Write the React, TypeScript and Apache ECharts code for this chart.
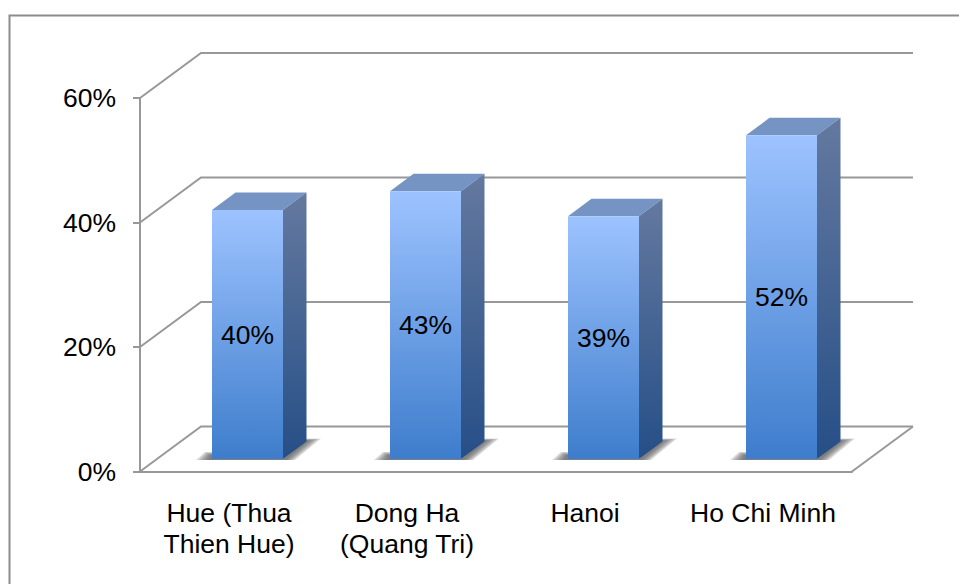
import React, { useEffect, useRef } from "react";
import * as echarts from "echarts";

const categories = ["Hue (Thua\nThien Hue)", "Dong Ha\n(Quang Tri)", "Hanoi", "Ho Chi Minh"];
const shares = [40, 43, 39, 52];
const yTicks = [0, 20, 40, 60];

const FONT = "'Liberation Sans', Arial, sans-serif";
const TEXT_SIZE = 26.5;
const WALL_DX = 61;
const WALL_DY = -45;
const BAR_W = 71;
const BAR_SHIFT_X = 18.5;
const BAR_SHIFT_Y = -12.5;
const SIDE_DX = 23.5;
const SIDE_DY = -17.5;
const LINE = "#989898";
const SHADOW_LAYERS = 6;

const vGrad = (a: string, b: string) =>
  new echarts.graphic.LinearGradient(0, 0, 0, 1, [
    { offset: 0, color: a },
    { offset: 1, color: b },
  ]);

const renderWall = (params: any, api: any) => {
  const v = api.value(0);
  const g = params.coordSys;
  const y = api.coord([0, v])[1];
  const children: any[] = [
    {
      type: "polyline",
      shape: { points: [[g.x, y], [g.x + WALL_DX, y + WALL_DY], [g.x + g.width + WALL_DX, y + WALL_DY]] },
      style: { stroke: LINE, lineWidth: 2, fill: "none" },
    },
  ];
  if (v === 0) {
    children.push({
      type: "line",
      shape: { x1: g.x + g.width, y1: y, x2: g.x + g.width + WALL_DX, y2: y + WALL_DY },
      style: { stroke: LINE, lineWidth: 2 },
    });
  }
  return { type: "group", children };
};

const renderBar = (_params: any, api: any) => {
  const top = api.coord([api.value(0), api.value(1)]);
  const base = api.coord([api.value(0), 0]);
  const l = top[0] + BAR_SHIFT_X - BAR_W / 2;
  const r = l + BAR_W;
  const t = top[1] + BAR_SHIFT_Y;
  const b = base[1] + BAR_SHIFT_Y;
  const shadow: any[] = [];
  for (let k = 0; k < SHADOW_LAYERS; k++) {
    const e = k / (SHADOW_LAYERS - 1);
    shadow.push({
      type: "polygon",
      shape: {
        points: [
          [l - 4 - 12 * e, b + 1],
          [l - 2 - 5 * e, b - 4 - 3 * e],
          [l + 4, b - 4 - 3 * e],
          [r, b],
          [r + SIDE_DX, b + SIDE_DY - 1 - 2 * e],
          [r + 26 + 12 * e, b + SIDE_DY - 1 - 2 * e],
          [r + 3 + 9 * e, b + 1],
        ],
      },
      style: { fill: "rgba(85,85,85,0.2)" },
    });
  }
  return {
    type: "group",
    children: [
      ...shadow,
      {
        type: "polygon",
        shape: { points: [[l, t], [l + SIDE_DX, t + SIDE_DY], [r + SIDE_DX, t + SIDE_DY], [r, t]] },
        style: { fill: "#7594C3" },
      },
      {
        type: "polygon",
        shape: { points: [[r, t], [r + SIDE_DX, t + SIDE_DY], [r + SIDE_DX, b + SIDE_DY], [r, b]] },
        style: { fill: vGrad("#64799F", "#264F87") },
      },
      {
        type: "rect",
        shape: { x: l, y: t, width: BAR_W, height: b - t },
        style: { fill: vGrad("#9DC3FF", "#3E7DCC") },
      },
      {
        type: "text",
        style: {
          x: (l + r) / 2,
          y: (t + b) / 2,
          text: `${api.value(1)}%`,
          fill: "#000",
          font: `${TEXT_SIZE}px ${FONT}`,
          align: "center",
          verticalAlign: "middle",
        },
      },
    ],
  };
};

export default function App() {
  const ref = useRef<HTMLDivElement>(null);
  useEffect(() => {
    const chart = echarts.init(ref.current!, undefined, { renderer: "svg" });
    chart.setOption({
      animation: false,
      backgroundColor: "#fff",
      textStyle: { fontFamily: FONT },
      grid: { left: 140, top: 98, width: 712, height: 373.5 },
      graphic: [
        {
          type: "polyline",
          silent: true,
          shape: { points: [[9.5, 640], [9.5, 15.5], [1000, 15.5]] },
          style: { stroke: "#8C8C8C", lineWidth: 2, fill: "none" },
        },
      ],
      xAxis: {
        type: "category",
        data: categories,
        axisLine: { lineStyle: { color: LINE, width: 2 } },
        axisTick: { length: 8, lineStyle: { color: LINE, width: 2 } },
        splitLine: { show: false },
        axisLabel: {
          color: "#000",
          fontSize: TEXT_SIZE,
          fontFamily: FONT,
          lineHeight: 31,
          margin: 26,
          interval: 0,
        },
      },
      yAxis: {
        type: "value",
        min: 0,
        max: 60,
        interval: 20,
        axisLine: { show: true, lineStyle: { color: LINE, width: 2 } },
        axisTick: { show: true, length: 7, lineStyle: { color: LINE, width: 2 } },
        splitLine: { show: false },
        axisLabel: {
          color: "#000",
          fontSize: TEXT_SIZE,
          fontFamily: FONT,
          margin: 24,
          formatter: (v: number) => `${v}%`,
        },
      },
      series: [
        {
          type: "custom",
          silent: true,
          clip: false,
          renderItem: renderWall,
          encode: { y: 0 },
          data: yTicks.map((v) => [v]),
          z: 1,
        },
        {
          type: "custom",
          silent: true,
          clip: false,
          renderItem: renderBar,
          encode: { x: 0, y: 1 },
          data: shares.map((v, i) => [i, v]),
          z: 3,
        },
      ],
    });
    return () => chart.dispose();
  }, []);
  return <div ref={ref} style={{ position: "fixed", left: 0, top: 0, width: 959, height: 584 }} />;
}
